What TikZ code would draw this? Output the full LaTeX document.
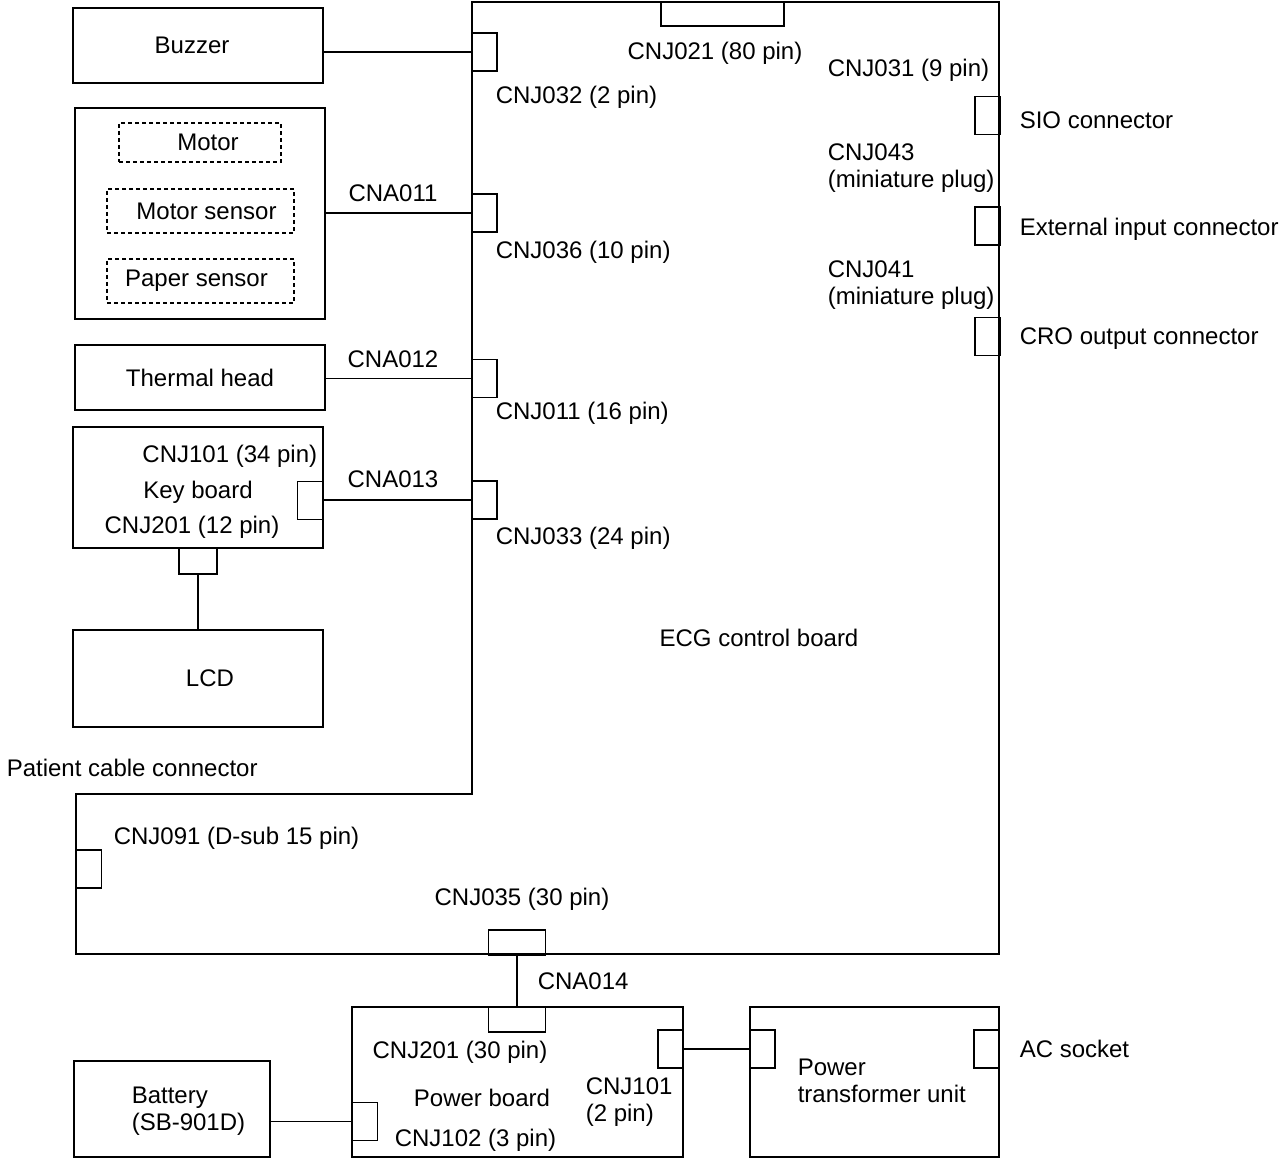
\documentclass[tikz,border=0pt]{standalone}
\usepackage{fontspec}
\setmainfont{Liberation Sans}
\usetikzlibrary{positioning}

\begin{document}
\begin{tikzpicture}[x=0.5pt,y=-0.5pt,line width=0.8pt,
	every node/.style={font=\fontsize{12}{13.5}\selectfont,inner sep=0pt},
	blk/.style={draw,minimum width=125pt},
	part/.style={draw,dash pattern=on 2pt off 1.5pt,line width=0.7pt},
	pin/.style={draw,minimum width=12.5pt,minimum height=19pt},
	pinh/.style={draw,minimum width=28.5pt,minimum height=12.5pt},
	lbl/.style={anchor=west,align=left}]
					\useasboundingbox (0,0) rectangle (1282,1159);
					\draw (472,2) -- (999,2) -- (999,954) -- (76,954) -- (76,794) -- (472,794) -- cycle;
					\node[blk, minimum height=37.5pt] (buzzer) at (198,45.5) {Buzzer\kern6pt};
					\node[blk, minimum height=105.5pt] (mech) at (200,213.5) {};
					\node[part, minimum width=81pt, minimum height=19.5pt] (motor) at (200,142.5) {\hspace{8pt}Motor};
					\node[part, minimum width=93.5pt, minimum height=22pt] (motsens) at (200.5,211) {\hspace{6pt}Motor sensor};
					\node[part, minimum width=93.5pt, minimum height=22pt] (papsens) at (200.5,281) {Paper sensor\kern4pt};
					\node[blk, minimum height=32.5pt] (thermal) at (200,377.5) {Thermal head};
					\node[blk, minimum height=60.5pt] (keyb) at (198,487.5) {};
					\node[blk, minimum height=48.5pt] (lcd) at (198,678.5) {\hspace{12pt}LCD};
					\node[blk, minimum width=165.5pt, minimum height=75pt] (power) at (517.5,1082) {};
					\node[blk, minimum width=124.5pt, minimum height=75pt] (ptrans) at (874.5,1082) {};
					\node[blk, minimum width=98pt, minimum height=48pt] (battery) at (172,1109) {};
					\node[pinh, minimum width=61.5pt, minimum height=12pt] (cnj021) at (722.5,14) {};
					\node[pin] (cnj032) at (484.5,52) {};
					\node[pin] (cnj036) at (484.5,213) {};
					\node[pin] (cnj011) at (484.5,378.5) {};
					\node[pin] (cnj033) at (484.5,500) {};
					\node[pin] (cnj031) at (987.5,115.5) {};
					\node[pin] (cnj043) at (987.5,226) {};
					\node[pin] (cnj041) at (987.5,336.5) {};
					\node[pin] (cnj091) at (89,869) {};
					\node[pinh] (cnj035) at (517,942.5) {};
					\node[pin] (kcnj101) at (310,500.5) {};
					\node[pinh, minimum width=19pt, minimum height=13pt] (kcnj201) at (198,561) {};
					\node[pinh] (pcnj201) at (517,1019.5) {};
					\node[pin] (pcnj101) at (670.5,1049) {};
					\node[pin] (pcnj102) at (365,1121.5) {};
					\node[pin] (ptrpin) at (762.5,1049) {};
					\node[pin] (acpin) at (986.5,1049) {};
					\node at (715,53) {CNJ021 (80 pin)};
					\node[lbl] at (495,97) {CNJ032 (2 pin)};
					\node[lbl] at (495,252) {CNJ036 (10 pin)};
					\node[lbl] at (495,413) {CNJ011 (16 pin)};
					\node[lbl] at (495,538) {CNJ033 (24 pin)};
					\node[lbl] at (827,70) {CNJ031 (9 pin)};
					\node[lbl] at (827,168) {CNJ043\\(miniature plug)};
					\node[lbl] at (827,285.5) {CNJ041\\(miniature plug)};
					\node[lbl] at (1019,120) {SIO connector};
					\node[lbl] at (1019,229) {External input connector};
					\node[lbl] at (1019,339) {CRO output connector};
					\node at (393,193) {CNA011};
					\node at (393,359) {CNA012};
					\node at (393,479) {CNA013};
					\node[anchor=east] at (318,456) {CNJ101 (34 pin)};
					\node at (198,492) {Key board};
					\node at (192,527) {CNJ201 (12 pin)};
					\node at (759,638) {ECG control board};
					\node[lbl] at (6,768) {Patient cable connector};
					\node[lbl] at (113,838) {CNJ091 (D-sub 15 pin)};
					\node at (522,899) {CNJ035 (30 pin)};
					\node[lbl] at (537,981) {CNA014};
					\node at (460,1052) {CNJ201 (30 pin)};
					\node at (482,1098) {Power board};
					\node[lbl] at (585,1102) {CNJ101\\(2 pin)};
					\node[lbl] at (394,1140) {CNJ102 (3 pin)};
					\node[lbl] at (797,1080.5) {Power\\transformer unit};
					\node[lbl] at (1019,1049) {AC socket};
					\node[lbl] at (131,1111.5) {Battery\\(SB-901D)};
					\path[draw]
					(cnj032.west) edge (cnj032.west -| buzzer.east)
					(cnj036.west) edge (cnj036.west -| mech.east)
					(cnj011.west) edge (cnj011.west -| thermal.east)
					(cnj033.west) edge (cnj033.west -| kcnj101.east)
					(kcnj201.south) edge (lcd.north)
					(cnj035.south) edge (pcnj201.north)
					(pcnj101.east) edge (ptrpin.west)
					(pcnj102.west) edge (pcnj102.west -| battery.east)
					;
				\end{tikzpicture}
\end{document}
